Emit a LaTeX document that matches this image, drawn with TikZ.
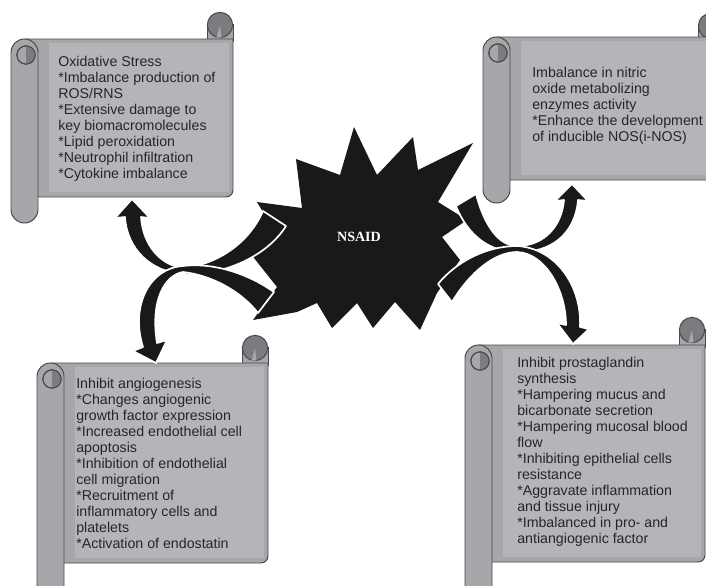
\documentclass[tikz,border=0pt]{standalone}
\usepackage{fontspec}
\setmainfont{Liberation Sans}
\newfontfamily\nsaidfont{Liberation Serif}

\definecolor{sheetgray}{HTML}{A6A7AA}
\definecolor{panelgray}{HTML}{B4B5B8}
\definecolor{edgegray}{HTML}{4A4A4C}
\definecolor{curlgray}{HTML}{7B7C7F}

\tikzset{
  sheetfill/.style={fill=sheetgray, draw=edgegray, line width=0.7pt},
  curlfill/.style={fill=curlgray, draw=edgegray, line width=0.7pt},
  scrolltext/.style={anchor=north west, align=left, inner sep=0pt,
    font=\fontsize{10.1pt}{11.35pt}\selectfont, text=black!85},
  bendarrow/.style={fill=black!90, draw=white, line width=1.2pt, line join=round}
}

% scroll: #1 roll left, #2 sheet top, #3 sheet right, #4 sheet bottom,
% #5 left roll bottom, #6 top roll top
\newcommand{\scrollshape}[6]{%
  \filldraw[sheetfill] ({#3-26},{#6+12}) rectangle (#3,{#2+2});
  \filldraw[curlfill] ({#3-13},{#6+13}) circle[radius=9pt];
  \fill[sheetgray] ({#3-13},{#6+13}) -- ++(-2.5pt,-9pt) -- ++(3.5pt,0) -- cycle;
  \filldraw[sheetfill] ({#1+14},#2) -- (#3,#2) [rounded corners=5pt] -- (#3,#4)
    -- ({#1+14},#4) [sharp corners] -- cycle;
  \fill[panelgray] ({#1+38},{#2+4}) rectangle ({#3-4},{#4-5});
  \filldraw[sheetfill, rounded corners=9.5pt] (#1,#2) rectangle ({#1+27},#5);
  \filldraw[sheetfill] ({#1+15},{#2+16}) circle[radius=6.5pt];
  \fill[curlgray] ({#1+15},{#2+16}) ++(90:6.5pt) arc[start angle=90, end angle=-90, radius=6.5pt] -- cycle;
  \draw[edgegray, line width=0.7pt] ({#1+15},{#2+16}) circle[radius=6.5pt];
}

\begin{document}
\begin{tikzpicture}[x=0.025cm, y=-0.025cm]
  \useasboundingbox (0,0) rectangle (706,586);
  \clip (0,0) rectangle (706,586);

  % the four scrolls
  \scrollshape{11}{39}{233}{197}{223}{12}
  \scrollshape{483}{37}{724}{180}{203}{13}
  \scrollshape{37}{363}{268}{563}{620}{335}
  \scrollshape{465}{345}{705}{562}{620}{317}

  \node[scrolltext] (stress) at (58,56) {Oxidative Stress\\{}*Imbalance production of\\ROS/RNS\\{}*Extensive damage to\\key biomacromolecules\\{}*Lipid peroxidation\\{}*Neutrophil infiltration\\{}*Cytokine imbalance};
  \node[scrolltext] (nitric) at (532,67) {Imbalance in nitric\\oxide metabolizing\\enzymes activity\\{}*Enhance the development\\of inducible NOS(i-NOS)};
  \node[scrolltext] (angio) at (76,378) {Inhibit angiogenesis\\{}*Changes angiogenic\\growth factor expression\\{}*Increased endothelial cell\\apoptosis\\{}*Inhibition of endothelial\\cell migration\\{}*Recruitment of\\inflammatory cells and\\platelets\\{}*Activation of endostatin};
  \node[scrolltext] (prosta) at (517,357) {Inhibit prostaglandin\\synthesis\\{}*Hampering mucus and\\bicarbonate secretion\\{}*Hampering mucosal blood\\flow\\{}*Inhibiting epithelial cells\\resistance\\{}*Aggravate inflammation\\and tissue injury\\{}*Imbalanced in pro- and\\antiangiogenic factor};

  % starburst
  \fill[black!90] (354,127) -- (377,175) -- (413,137) -- (418,170) -- (473,143)
    -- (438,202) -- (467,220) -- (442,237) -- (460,260) -- (437,293) -- (420,330)
    -- (395,302) -- (373,328) -- (357,303) -- (332,328) -- (317,303) -- (297,312)
    -- (253,320) -- (277,287) -- (250,253) -- (272,227) -- (257,202) -- (302,208)
    -- (296,159) -- (340,175) -- cycle;

  % curved arrows, left pair
  \filldraw[bendarrow] (125,217) .. controls (127,250) and (152,272) .. (183,274)
    .. controls (225,276) and (268,255) .. (286,226) -- (263,211)
    .. controls (248,245) and (215,265) .. (183,268)
    .. controls (160,265) and (143,245) .. (141,217)
    -- (150,218) -- (132,199) -- (115,218) -- cycle;
  \filldraw[bendarrow] (143,347) .. controls (130,305) and (150,268) .. (183,266)
    .. controls (215,262) and (250,275) .. (274,292) -- (258,313)
    .. controls (240,290) and (210,275) .. (183,272)
    .. controls (165,275) and (150,300) .. (157,343)
    -- (167,340) -- (156,363) -- (133,351) -- cycle;
  % curved arrows, right pair
  \filldraw[bendarrow] (578,200) .. controls (575,235) and (550,253) .. (517,252)
    .. controls (490,252) and (468,236) .. (456,206) -- (476,194)
    .. controls (485,228) and (500,246) .. (517,246)
    .. controls (545,246) and (562,225) .. (564,200)
    -- (555,201) -- (572,184) -- (588,201) -- cycle;
  \filldraw[bendarrow] (580,327) .. controls (582,285) and (555,248) .. (517,246)
    .. controls (485,246) and (455,263) .. (438,284) -- (452,302)
    .. controls (470,272) and (495,252) .. (517,252)
    .. controls (545,253) and (566,290) .. (566,325)
    -- (557,323) -- (573,344) -- (589,329) -- cycle;

  \node[font=\nsaidfont\bfseries\fontsize{10pt}{12pt}\selectfont, text=white] (nsaid) at (359,237) {NSAID};
\end{tikzpicture}
\end{document}
